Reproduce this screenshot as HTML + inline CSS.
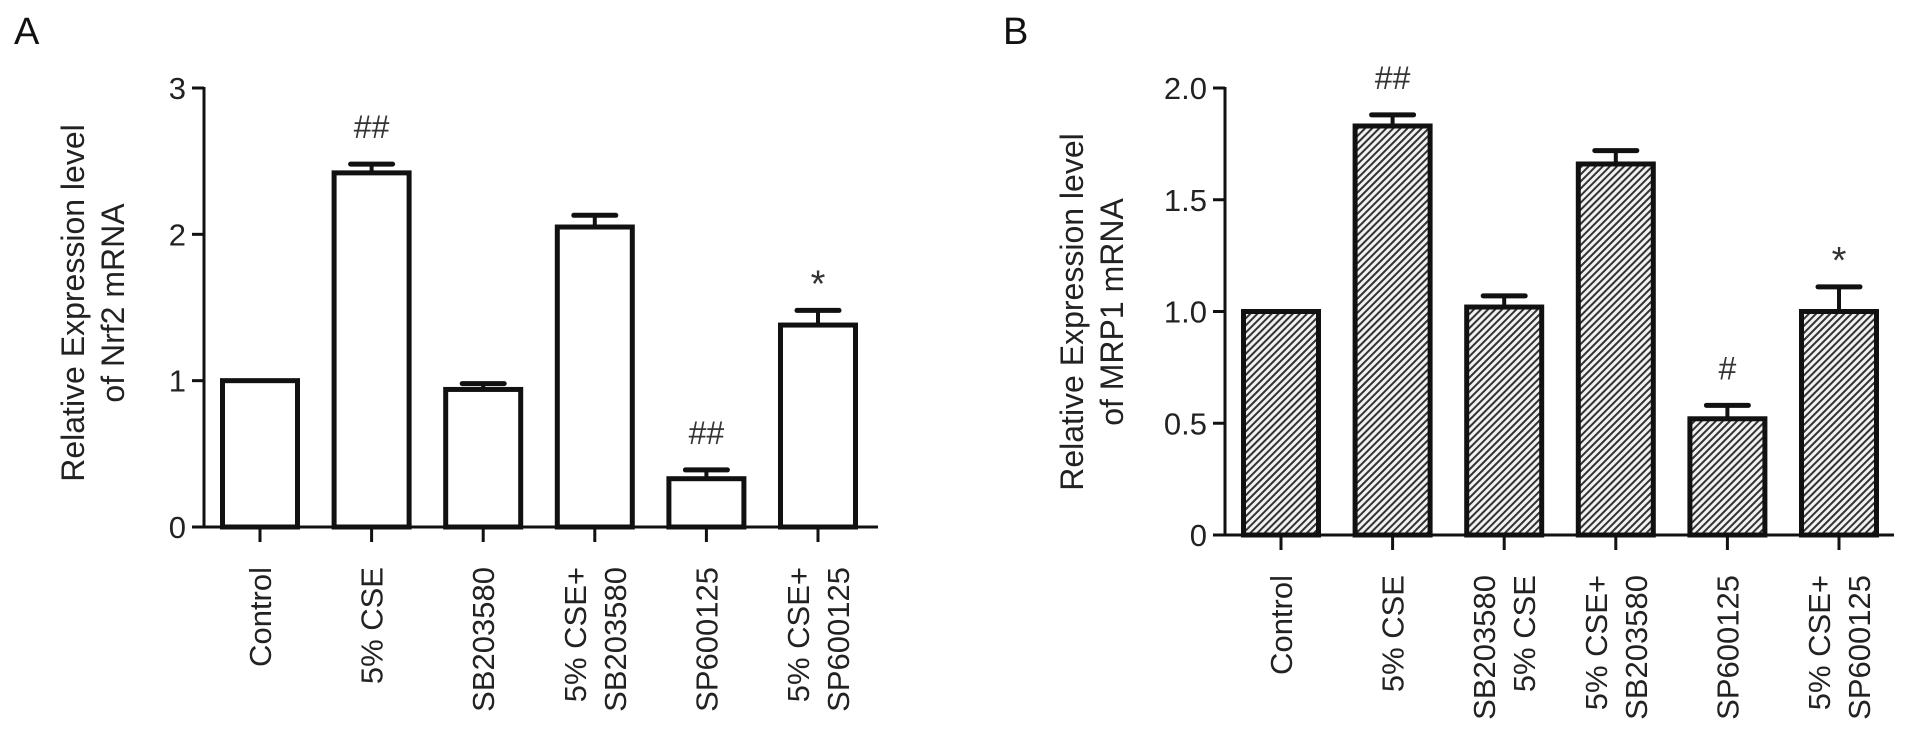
<!DOCTYPE html>
<html><head><meta charset="utf-8">
<style>
html,body{margin:0;padding:0;background:#fff;}
svg{display:block;font-family:"Liberation Sans",Arial,sans-serif;}
</style></head>
<body>
<svg id="fig" width="1913" height="735" viewBox="0 0 1913 735">
<defs>
<pattern id="hatch" patternUnits="userSpaceOnUse" width="5" height="5" patternTransform="rotate(45)">
<rect width="5" height="5" fill="#f2f2f2"/>
<rect x="0" y="0" width="2" height="5" fill="#333"/>
</pattern>
</defs>
<text x="14" y="44" font-size="38" fill="#111">A</text>
<text x="1003" y="44" font-size="38" fill="#111">B</text>
</svg>
<script>
const catsA = [["Control"],["5% CSE"],["SB203580"],["5% CSE+","SB203580"],["SP600125"],["5% CSE+","SP600125"]];
const valsA = [1.0, 2.42, 0.94, 2.05, 0.33, 1.38];
const errA = [0, 0.06, 0.04, 0.08, 0.06, 0.10];
const marksA = ["", "##", "", "", "##", "*"];
const ticksA = [0, 1, 2, 3];
const tickLabelsA = ["0", "1", "2", "3"];

const catsB = [["Control"],["5% CSE"],["SB203580","5% CSE"],["5% CSE+","SB203580"],["SP600125"],["5% CSE+","SP600125"]];
const valsB = [1.0, 1.83, 1.02, 1.66, 0.52, 1.00];
const errB = [0, 0.05, 0.05, 0.06, 0.06, 0.11];
const marksB = ["", "##", "", "", "#", "*"];
const ticksB = [0, 0.5, 1.0, 1.5, 2.0];
const tickLabelsB = ["0", "0.5", "1.0", "1.5", "2.0"];

const NS = "http://www.w3.org/2000/svg";
const svg = document.getElementById("fig");
function mk(tag, attrs, parent){
  const e = document.createElementNS(NS, tag);
  for (const k in attrs) e.setAttribute(k, attrs[k]);
  (parent||svg).appendChild(e);
  return e;
}

function panel(cfg){
  const g = mk("g", {});
  
  
  const y = v => cfg.y0 - (v - 0) / cfg.vmax * (cfg.y0 - cfg.ytop);
  const x = i => cfg.x0 + i * cfg.step;
  // y axis
  const ya = mk("line", {x1:cfg.axisX, y1:cfg.ytop-1, x2:cfg.axisX, y2:cfg.y0, stroke:"#111", "stroke-width":3}, g);
  
  
  cfg.ticks.forEach((t, i) => {
    const tl = mk("line", {x1:cfg.axisX-12, y1:y(t), x2:cfg.axisX, y2:y(t), stroke:"#111", "stroke-width":3}, g);
    
    
    const tx = mk("text", {x:cfg.axisX-18, y:y(t)+11, "font-size":31, "text-anchor":"end", fill:"#222"}, g);
    tx.textContent = cfg.tickLabels[i];
    
    
  });
  // bars
  cfg.vals.forEach((v, i) => {
    const cx = x(i), w = cfg.bw;
    const top = y(v);
    if (cfg.err[i] > 0) {
      const ey = y(v + cfg.err[i]);
      const el = mk("line", {x1:cx, y1:ey, x2:cx, y2:top, stroke:"#111", "stroke-width":4}, g);
      
      
      const cap = mk("line", {x1:cx-w*0.28, y1:ey, x2:cx+w*0.28, y2:ey, stroke:"#111", "stroke-width":5, "stroke-linecap":"round"}, g);
      
      
    }
    const r = mk("rect", {x:cx-w/2, y:top, width:w, height:cfg.y0-top, fill:cfg.fill, stroke:"#111", "stroke-width":5}, g);
    
    
    if (cfg.marks[i]) {
      const my = y(v + cfg.err[i]) - 26;
      const m = mk("text", {x:cx, y:my, "font-size": cfg.marks[i]==="*" ? 38 : 32, "text-anchor":"middle", fill:"#333"}, g);
      m.textContent = cfg.marks[i];
      if (cfg.marks[i]==="*") m.setAttribute("y", my+12);
      
      
    }
    const tk = mk("line", {x1:cx, y1:cfg.y0, x2:cx, y2:cfg.y0+15, stroke:"#111", "stroke-width":3}, g);
    
    
    const lines = cfg.cats[i];
    const n = lines.length;
    lines.forEach((ln, j) => {
      const lx = cx + (j - (n-1)/2) * 40 + 11;
      const t = mk("text", {x:lx, y:cfg.y0+40, "font-size":31, "text-anchor":"end", fill:"#222", transform:"rotate(-90 " + lx + " " + (cfg.y0+40) + ")"}, g);
      t.textContent = ln;
      
      
    });
  });
  // x axis
  const xa = mk("line", {x1:cfg.axisX-10, y1:cfg.y0, x2:cfg.xEnd, y2:cfg.y0, stroke:"#111", "stroke-width":3}, g);
  
  
  // title
  cfg.title.forEach((ln, j) => {
    const tx = cfg.titleX + j*40, ty = cfg.titleY;
    const t = mk("text", {x:tx, y:ty, "font-size":32, "text-anchor":"middle", fill:"#222", transform:"rotate(-90 " + tx + " " + ty + ")"}, g);
    t.textContent = ln;
    
    
  });
}

panel({id:"panel-a", cats:catsA, vals:valsA, err:errA, marks:marksA, ticks:ticksA, tickLabels:tickLabelsA,
  vmax:3, y0:527, ytop:88, axisX:204, x0:260, step:111.6, bw:75, xEnd:878, fill:"#fff",
  title:["Relative Expression level","of Nrf2 mRNA"], titleX:84, titleY:303});
panel({id:"panel-b", cats:catsB, vals:valsB, err:errB, marks:marksB, ticks:ticksB, tickLabels:tickLabelsB,
  vmax:2, y0:535, ytop:88, axisX:1225, x0:1281, step:111.6, bw:75, xEnd:1894, fill:"url(#hatch)",
  title:["Relative Expression level","of MRP1 mRNA"], titleX:1083, titleY:312});
</script>
</body></html>
